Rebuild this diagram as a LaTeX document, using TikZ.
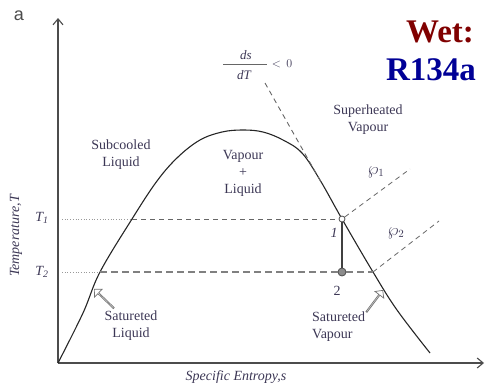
\documentclass[tikz,border=0pt]{standalone}
\usepackage{fontspec}
\setmainfont{Liberation Serif}
\setsansfont{Liberation Sans}
\usetikzlibrary{arrows.meta,shapes.arrows}
\definecolor{wetred}{RGB}{128,0,0}
\definecolor{wetblue}{RGB}{0,0,150}
\definecolor{txt}{RGB}{60,55,85}
\tikzset{
  lbl/.style={text=txt,font=\fontsize{14}{17}\selectfont,align=center,inner sep=0pt},
  ilbl/.style={text=txt,font=\fontsize{14}{17}\selectfont\itshape,inner sep=0pt},
  axis/.style={draw=black!70,line width=1.1pt,-{Straight Barb[length=6pt,width=10pt]}},
  hollow/.style={single arrow,draw=black!55,fill=white,line width=0.7pt,minimum height=27pt,minimum width=11pt,single arrow head extend=2.5pt,inner sep=0pt,anchor=tip},
  isoline/.style={draw=black!60,dashed,dash pattern=on 5pt off 4pt,line width=0.8pt},
  big/.style={font=\fontsize{33}{36}\selectfont\bfseries,inner sep=0pt}
}
\begin{document}
\begin{tikzpicture}[x=1pt,y=-1pt]
\useasboundingbox (0,0) rectangle (485,388);
% corner label
\node[font=\sffamily\fontsize{18}{18}\selectfont,text=black!70,inner sep=0pt] (a) at (19,16) {a};
% Wet R134a
\node[big,text=wetred] (wet) at (440,32) {Wet:};
\node[big,text=wetblue] (r134) at (431,70) {R134a};
% axes
\coordinate (O) at (58,363);
\coordinate (ytop) at (58,18);
\coordinate (xend) at (484,363);
\draw[axis] (O) -- (ytop);
\draw[axis] (O) -- (xend);
% saturation dome
\draw[line width=1.1pt,black!85] plot[smooth,tension=0.6] coordinates{
 (58,363) (83,313) (100,272) (132,219) (157,181) (178,157) (200,140) (222,132) (243,130) (263,132) (283,140) (302,153) (320,180) (342,219) (373,272) (397,310) (430,353)};
\coordinate (L1) at (132,219);
\coordinate (L2) at (100,272);
\coordinate (R2) at (373,272);
\coordinate (Y1) at (62,219);
\coordinate (Y2) at (62,272);
% isotherms
\draw[black!40,dotted,line width=0.7pt] (Y1) -- (L1);
\draw[black!40,dotted,line width=0.7pt] (Y2) -- (L2);
\node[circle,draw=black!70,fill=white,inner sep=0pt,minimum size=6pt,line width=0.8pt] (p1) at (342,219) {};
\node[circle,draw=black!70,fill=black!45,inner sep=0pt,minimum size=8pt,line width=0.8pt] (p2) at (342,272) {};
\draw[isoline] (L1) -- (p1.west);
\draw[isoline,draw=black!50,line width=1.6pt,dash pattern=on 7pt off 4pt] (L2) -- (p2.west);
\draw[isoline,draw=black!50,line width=1.6pt,dash pattern=on 7pt off 4pt] (p2.east) -- (R2);
\draw[black!75,line width=1.8pt] (p1.south) -- (p2.north);
% isobars
\coordinate (b1) at (410,169);
\coordinate (b2) at (439,221);
\draw[isoline] (p1) -- (b1);
\draw[isoline] (R2) -- (b2);
% ds/dT tangent
\coordinate (t0) at (265,83);
\coordinate (t1) at (321,182);
\draw[isoline,line width=0.9pt] (t0) -- (t1);
\node[ilbl,font=\fontsize{13}{13}\selectfont\itshape] (ds) at (246,55) {ds};
\node[ilbl,font=\fontsize{13}{13}\selectfont\itshape] (dT) at (244,75) {dT};
\coordinate (fb0) at (223,64);
\coordinate (fb1) at (267,64);
\draw[black!60,line width=0.9pt] (fb0) -- (fb1);
\node[text=txt,inner sep=0pt,font=\fontsize{13}{13}\selectfont] (lt0) at (282,64) {$<\,0$};
% labels
\node[lbl] (sub) at (121,155) {Subcooled\\Liquid};
\node[lbl] (vl) at (243,173) {Vapour\\+\\Liquid};
\node[lbl] (sh) at (368,120) {Superheated\\Vapour};
\node[text=txt,inner sep=0pt,font=\fontsize{16}{16}\selectfont] (wp1) at (376,172) {$\wp_1$};
\node[text=txt,inner sep=0pt,font=\fontsize{16}{16}\selectfont] (wp2) at (396,233) {$\wp_2$};
\node[ilbl] (n1) at (334,233) {1};
\node[lbl] (n2) at (337,291) {2};
\node[ilbl] (T1) at (42,218) {T\textsubscript{1}};
\node[ilbl] (T2) at (42,272) {T\textsubscript{2}};
\node[ilbl,rotate=90] (ylab) at (16,236) {Temperature,T};
\node[ilbl] (xlab) at (236,377) {Specific Entropy,s};
\node[lbl] (sl) at (131,326) {Satureted\\Liquid};
\node[lbl,align=left,anchor=north west] (sv) at (312,312) {Satureted\\Vapour};
% hollow arrows
\node[hollow,rotate=136] (al) at (94,289) {};
\node[hollow,rotate=53] (av) at (383,290) {};
\end{tikzpicture}
\end{document}
